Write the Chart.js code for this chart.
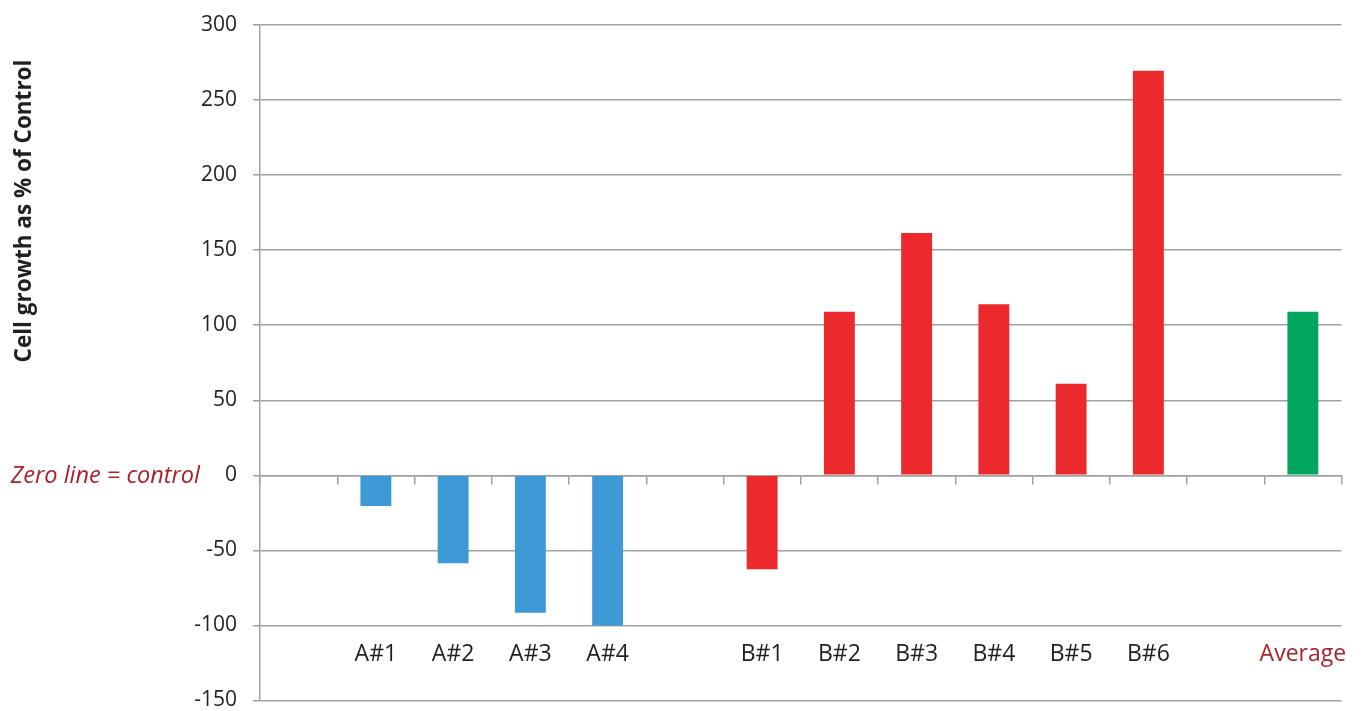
<!DOCTYPE html>
<html>
<head>
<meta charset="utf-8">
<script src="https://cdn.jsdelivr.net/npm/chart.js@4"></script>
<style>
  html, body { margin: 0; padding: 0; background: #fff; }
  #wrap { width: 1363px; height: 711px; position: relative; }
</style>
</head>
<body>
<div id="wrap"><canvas id="chart"></canvas></div>
<script>
// categories (empty slots are gaps between groups)
const categories = ['', 'A#1', 'A#2', 'A#3', 'A#4', '', 'B#1', 'B#2', 'B#3', 'B#4', 'B#5', 'B#6', '', 'Average'];
const seriesA = [null, -20.5, -58.5, -91.5, -100, null, null, null, null, null, null, null, null, null];
const seriesB = [null, null, null, null, null, null, -62.5, 109, 161.5, 114, 61, 269.5, null, null];
const average = [null, null, null, null, null, null, null, null, null, null, null, null, null, 109];
const yTicks = [300, 250, 200, 150, 100, 50, 0, -50, -100, -150];

const yTitle = 'Cell growth as % of Control';
const zeroNote = 'Zero line = control';

const gridColor = '#9da1a6';
const textColor = '#231f20';
const noteColor = '#a8232e';

// extra texts: rotated y title and the zero line note
const annotations = {
  id: 'annotations',
  afterDraw(chart) {
    const ctx = chart.ctx;
    const y = chart.scales.y;
    ctx.save();
    ctx.fillStyle = noteColor;
    ctx.font = 'italic 23.5px "Open Sans"';
    ctx.textAlign = 'right';
    ctx.textBaseline = 'alphabetic';
    ctx.fillText(zeroNote, 200, y.getPixelForValue(0) + 8);
    ctx.restore();

    ctx.save();
    ctx.fillStyle = textColor;
    ctx.font = 'bold 22.5px "Open Sans"';
    ctx.translate(31, 211);
    ctx.rotate(-Math.PI / 2);
    ctx.textAlign = 'center';
    ctx.textBaseline = 'alphabetic';
    ctx.fillText(yTitle, 0, 0);
    ctx.restore();
  }
};

new Chart(document.getElementById('chart'), {
  type: 'bar',
  data: {
    labels: categories,
    datasets: [
      { data: seriesA, backgroundColor: '#3d9ad6' },
      { data: seriesB, backgroundColor: '#ec2a2e' },
      { data: average, backgroundColor: '#00a65b' }
    ].map(d => ({ ...d, barPercentage: 0.4, categoryPercentage: 1, xAxisID: 'x', yAxisID: 'y' }))
  },
  options: {
    responsive: true,
    maintainAspectRatio: false,
    animation: false,
    layout: { padding: { top: 25, right: 21.5, bottom: 10.5, left: 0 } },
    plugins: { legend: { display: false }, tooltip: { enabled: false } },
    scales: {
      y: {
        min: -150,
        max: 300,
        afterBuildTicks: s => { s.ticks = yTicks.map(v => ({ value: v })); },
        afterFit: s => { s.width = 260; s.paddingTop = 0; s.paddingBottom = 0; },
        grid: { color: gridColor, lineWidth: 1.5, tickLength: 7 },
        border: { color: gridColor, width: 1.5 },
        ticks: {
          color: textColor,
          padding: 16,
          font: { family: '"Open Sans"', size: 21, lineHeight: 1 }
        }
      },
      x: {
        position: { y: 0 },
        stacked: true,
        offset: true,
        afterFit: s => { s.height = 0; },
        grid: { offset: true, drawOnChartArea: false, drawTicks: true, tickLength: 8, color: gridColor, lineWidth: 1.5 },
        border: { color: gridColor, width: 1.5 },
        ticks: { display: false }
      },
      xl: {
        type: 'category',
        position: { y: -100 },
        offset: true,
        afterFit: s => { s.height = 0; },
        grid: { display: false, drawTicks: false },
        border: { display: false },
        ticks: {
          padding: 15,
          maxRotation: 0,
          autoSkip: false,
          color: c => c.index === categories.length - 1 ? noteColor : textColor,
          font: { family: '"Open Sans"', size: 23 }
        }
      }
    }
  },
  plugins: [annotations]
});
</script>
</body>
</html>
